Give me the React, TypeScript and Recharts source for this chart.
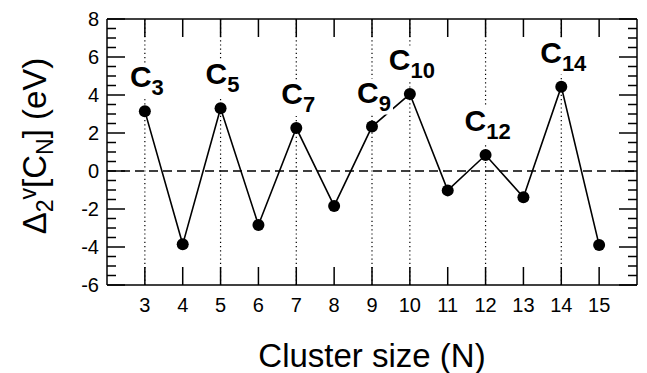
import React from 'react';
import { LineChart, Line, XAxis, YAxis, ReferenceLine, Label } from 'recharts';

const clusterSizes = [3, 4, 5, 6, 7, 8, 9, 10, 11, 12, 13, 14, 15];
const gapValues = [3.15, -3.86, 3.3, -2.84, 2.26, -1.84, 2.34, 4.05, -1.02, 0.84, -1.38, 4.44, -3.9];
const labeledSizes = [3, 5, 7, 9, 10, 12, 14];
const xTicks = [3, 4, 5, 6, 7, 8, 9, 10, 11, 12, 13, 14, 15];
const yTicks = [-6, -5.5, -5, -4.5, -4, -3.5, -3, -2.5, -2, -1.5, -1, -0.5, 0, 0.5, 1, 1.5, 2, 2.5, 3, 3.5, 4, 4.5, 5, 5.5, 6, 6.5, 7, 7.5, 8];
const xDomain = [2, 16];
const yDomain = [-6, 8];

const data = clusterSizes.map((n, i) => ({ n, gap: gapValues[i] }));

const FONT = '"Liberation Sans", Arial, Helvetica, sans-serif';
const MAJOR = 18;
const MINOR = 9;
const PLOT_TOP = 19;
const PLOT_RIGHT = 637;

const isMajor = (v: number) => Math.abs(v % 2) < 1e-6;

// bottom axis tick: draws bottom + mirrored top tick and the label
const renderBottomTick = (props: any) => {
  const { x, y, payload } = props;
  return (
    <g>
      <line x1={x} x2={x} y1={y} y2={y - MAJOR} stroke="#000" strokeWidth={1.5} />
      <line x1={x} x2={x} y1={PLOT_TOP} y2={PLOT_TOP + MAJOR} stroke="#000" strokeWidth={1.5} />
      <text x={x} y={y + 27} textAnchor="middle" fontSize={20} fontFamily={FONT} fill="#000">
        {payload.value}
      </text>
    </g>
  );
};

// left axis tick: draws left + mirrored right tick, label on majors only
const renderLeftTick = (props: any) => {
  const { x, y, payload } = props;
  const len = isMajor(payload.value) ? MAJOR : MINOR;
  return (
    <g>
      <line x1={x} x2={x + len} y1={y} y2={y} stroke="#000" strokeWidth={1.5} />
      <line x1={PLOT_RIGHT - len} x2={PLOT_RIGHT} y1={y} y2={y} stroke="#000" strokeWidth={1.5} />
      {isMajor(payload.value) && (
        <text x={x - 8} y={y + 7} textAnchor="end" fontSize={20} fontFamily={FONT} fill="#000">
          {payload.value}
        </text>
      )}
    </g>
  );
};

const ClusterLabel = (props: any) => {
  const { x, y, index } = props;
  const n = clusterSizes[index];
  if (!labeledSizes.includes(n)) return null;
  const sub = String(n);
  const w = 22 + sub.length * 12;
  const cx = x + 2;
  const base = y - 24;
  return (
    <g>
      <rect x={cx - w / 2 - 2} y={base - 24} width={w + 4} height={36} fill="#fff" />
      <text x={cx} y={base} textAnchor="middle" fontWeight="bold" fontSize={30} fontFamily={FONT} fill="#000">
        C
        <tspan fontSize={22} dy={8}>{sub}</tspan>
      </text>
    </g>
  );
};

const AxisTitles = ({ viewBox }: any) => {
  const ycx = 46;
  const ycy = PLOT_TOP + (viewBox.y - PLOT_TOP) / 2 - 6;
  return (
    <g>
      <text
        x={viewBox.x + viewBox.width / 2}
        y={viewBox.y + 82}
        textAnchor="middle"
        fontSize={33}
        fontFamily={FONT}
        fill="#000"
      >
        Cluster size (N)
      </text>
      <text
        x={ycx}
        y={ycy}
        transform={`rotate(-90, ${ycx}, ${ycy})`}
        textAnchor="middle"
        fontSize={33}
        fontFamily={FONT}
        fill="#000"
      >
        Δ
        <tspan fontSize={23} dy={7}>2</tspan>
        <tspan fontSize={23} dy={-17}>v</tspan>
        <tspan dy={10}>[C</tspan>
        <tspan fontSize={23} dy={7}>N</tspan>
        <tspan dy={-7}>] (eV)</tspan>
      </text>
    </g>
  );
};

export default function App() {
  return (
    <div style={{ position: 'absolute', left: 0, top: 0, background: '#fff' }}>
      <LineChart width={647} height={373} data={data} margin={{ top: 19, right: 10, bottom: 0, left: 106 }}>
        <XAxis
          dataKey="n"
          type="number"
          domain={xDomain}
          ticks={xTicks}
          interval={0}
          height={88}
          tickSize={0}
          tickMargin={0}
          tickLine={false}
          axisLine={false}
          tick={renderBottomTick}
        >
          <Label content={<AxisTitles />} />
        </XAxis>
        <YAxis
          type="number"
          domain={yDomain}
          ticks={yTicks}
          interval={0}
          width={1}
          tickSize={0}
          tickMargin={0}
          tickLine={false}
          axisLine={false}
          tick={renderLeftTick}
        />
        {labeledSizes.map((n) => (
          <ReferenceLine key={n} x={n} stroke="#000" strokeWidth={1.2} strokeDasharray="1.2 3" />
        ))}
        <ReferenceLine y={0} stroke="#000" strokeWidth={1.3} strokeDasharray="9 5" />
        <ReferenceLine x={xDomain[0]} stroke="#000" strokeWidth={1.5} />
        <ReferenceLine x={xDomain[1]} stroke="#000" strokeWidth={1.5} />
        <ReferenceLine y={yDomain[0]} stroke="#000" strokeWidth={1.5} />
        <ReferenceLine y={yDomain[1]} stroke="#000" strokeWidth={1.5} />
        <Line
          dataKey="gap"
          stroke="#000"
          strokeWidth={1.6}
          isAnimationActive={false}
          dot={{ r: 6, fill: '#000', stroke: '#000', strokeWidth: 0 }}
          activeDot={false}
          label={<ClusterLabel />}
        />
      </LineChart>
    </div>
  );
}
